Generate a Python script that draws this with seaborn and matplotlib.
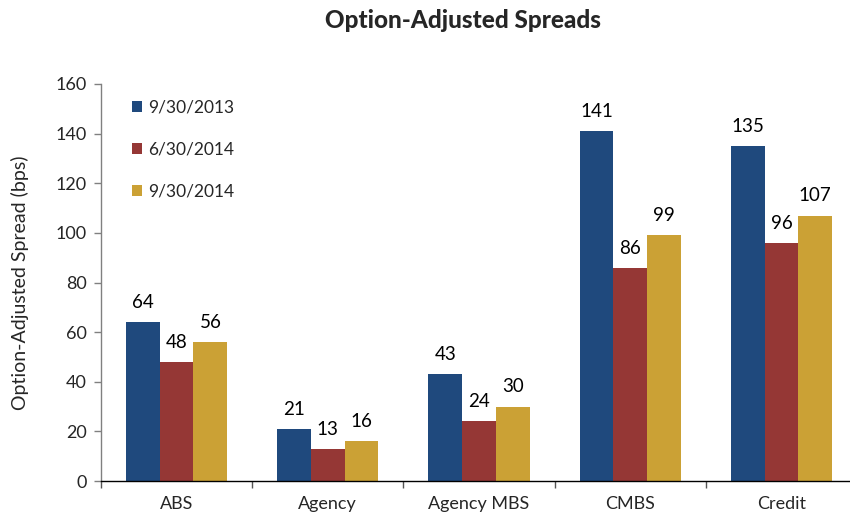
import matplotlib
matplotlib.use("Agg")
import matplotlib.pyplot as plt
import seaborn as sns
import pandas as pd

categories = ["ABS", "Agency", "Agency MBS", "CMBS", "Credit"]
series_names = ["9/30/2013", "6/30/2014", "9/30/2014"]
vals_2013q3 = [64, 21, 43, 141, 135]
vals_2014q2 = [48, 13, 24, 86, 96]
vals_2014q3 = [56, 16, 30, 99, 107]
yticks = [0, 20, 40, 60, 80, 100, 120, 140, 160]

colors = ["#1F497D", "#953735", "#CBA135"]

rows = []
for name, vals in zip(series_names, [vals_2013q3, vals_2014q2, vals_2014q3]):
    for c, v in zip(categories, vals):
        rows.append({"Category": c, "Series": name, "Value": v})
df = pd.DataFrame(rows)

sns.set_style("white")
plt.rcParams["font.family"] = ["Lato", "DejaVu Sans"]

fig = plt.figure(figsize=(8.5, 5.18), dpi=100)
ax = fig.add_axes([101/850, 37/518, 756/850, 397/518])

sns.barplot(data=df, x="Category", y="Value", hue="Series", order=categories,
            hue_order=series_names, palette=colors, width=0.67, saturation=1,
            ax=ax, edgecolor="none", linewidth=0)

for cont in ax.containers:
    ax.bar_label(cont, labels=[f"{int(v)}" for v in cont.datavalues],
                 padding=8, fontsize=13.5, color="black")

ax.set_xlim(-0.5, 4.5)
ax.set_ylim(0, 160)
ax.set_yticks(yticks)
ax.set_yticklabels([str(t) for t in yticks], fontsize=13)
ax.set_xlabel("")
ax.set_ylabel("Option-Adjusted Spread (bps)", fontsize=14, labelpad=19)

ax.set_xticks(range(len(categories)))
ax.set_xticklabels(categories, fontsize=13)
ax.tick_params(axis="x", which="major", length=0, pad=11)
ax.set_xticks([i + 0.5 for i in range(-1, len(categories))], minor=True)
ax.tick_params(axis="x", which="minor", length=5, width=1, color="#555555", direction="out", bottom=True)
ax.tick_params(axis="y", length=5, width=1, color="#808080", direction="out", left=True, pad=5)

for s in ["top", "right"]:
    ax.spines[s].set_visible(False)
ax.spines["left"].set_color("#808080")
ax.spines["bottom"].set_color("black")
ax.spines["left"].set_linewidth(1)
ax.spines["bottom"].set_linewidth(1)

leg = ax.legend(loc="upper left", bbox_to_anchor=(0.02, 1.0), frameon=False,
                fontsize=12.5, handlelength=0.6, handleheight=0.6,
                handletextpad=0.35, labelspacing=1.5)

fig.text(0.545, 0.961, "Option-Adjusted Spreads", ha="center", va="center",
         fontsize=17.5, fontweight="black")

fig.savefig("out.png", dpi=100)
